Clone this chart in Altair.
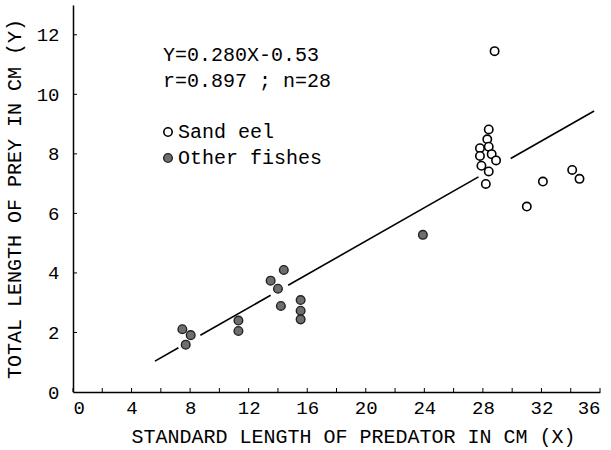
import altair as alt
import pandas as pd

# Sand eel (open circles)
eel_x = [28.4, 28.3, 27.8, 28.4, 27.8, 28.6, 28.9, 27.9, 28.4, 28.2, 28.8, 32.1, 31.0, 34.1, 34.6]
eel_y = [8.82, 8.49, 8.19, 8.24, 7.93, 7.99, 7.78, 7.60, 7.41, 6.99, 11.45, 7.07, 6.23, 7.46, 7.16]
# Other fishes (filled circles)
oth_x = [7.47, 8.04, 7.70, 11.3, 11.3, 13.5, 14.0, 14.4, 14.2, 15.55, 15.55, 15.55, 23.9]
oth_y = [2.11, 1.91, 1.59, 2.40, 2.05, 3.74, 3.47, 4.10, 2.89, 3.09, 2.73, 2.44, 5.28]

# regression line Y = 0.280X - 0.53, drawn as broken segments
slope, intercept = 0.280, -0.53
seg_start = [5.6, 8.7, 14.7, 29.9]
seg_end = [7.2, 13.5, 27.7, 35.6]

x_ticks = list(range(0, 37, 2))
y_ticks = list(range(0, 13, 2))

FONT = "Liberation Mono"

eel = pd.DataFrame({"x": eel_x, "y": eel_y})
oth = pd.DataFrame({"x": oth_x, "y": oth_y})
seg_rows = []
for i, (a, b) in enumerate(zip(seg_start, seg_end)):
    seg_rows.append({"seg": i, "x": a})
    seg_rows.append({"seg": i, "x": b})
segs = pd.DataFrame(seg_rows)

xs = alt.Scale(domain=[0, 36], nice=False, zero=False)
ys = alt.Scale(domain=[0, 13], nice=False, zero=False)

xaxis = alt.Axis(values=x_ticks, labelExpr="datum.value % 4 == 0 ? datum.label : ''",
                 grid=False, ticks=False, domainColor="black", domainWidth=1.5,
                 labelFont=FONT, labelFontSize=19, labelColor="black", labelPadding=6,
                 title="STANDARD LENGTH OF PREDATOR IN CM (X)", titleFont=FONT,
                 titleFontSize=20, titleFontWeight="normal", titleColor="black",
                 titlePadding=9, titleX=280, titleAlign="center")
yaxis = alt.Axis(values=y_ticks, grid=False, ticks=False, domainColor="black",
                 domainWidth=1.5, labelFont=FONT, labelFontSize=19, labelColor="black",
                 labelPadding=14,
                 title="TOTAL LENGTH OF PREY IN CM (Y)", titleFont=FONT,
                 titleFontSize=20, titleFontWeight="normal", titleColor="black",
                 titlePadding=12)

base_pts = alt.Chart(eel).mark_point(shape="circle", filled=False, size=70,
                                     color="black", strokeWidth=1.6, fill="white",
                                     opacity=1).encode(
    x=alt.X("x:Q", scale=xs, axis=xaxis),
    y=alt.Y("y:Q", scale=ys, axis=yaxis),
)
oth_pts = alt.Chart(oth).mark_point(shape="circle", filled=True, size=75,
                                    color="#6e6e6e", stroke="#222222", strokeWidth=1.4,
                                    opacity=1).encode(
    x=alt.X("x:Q", scale=xs),
    y=alt.Y("y:Q", scale=ys),
)
line = alt.Chart(segs).transform_calculate(
    y=f"{slope} * datum.x + ({intercept})"
).mark_line(color="black", strokeWidth=1.6).encode(
    x=alt.X("x:Q", scale=xs),
    y=alt.Y("y:Q", scale=ys),
    detail="seg:N",
)

xt = alt.Chart(pd.DataFrame({"t": x_ticks})).mark_rule(color="black", strokeWidth=1).encode(
    x=alt.X("t:Q", scale=xs), y=alt.value(387), y2=alt.value(383))
yt = alt.Chart(pd.DataFrame({"t": y_ticks[1:]})).mark_rule(color="black", strokeWidth=1).encode(
    y=alt.Y("t:Q", scale=ys), x=alt.value(0), x2=alt.value(4))

ann_text = ["Y=0.280X-0.53", "r=0.897 ; n=28", "Sand eel", "Other fishes"]
ann_x = [90, 90, 105, 105]
ann_y = [50, 76, 127, 153]
ann = alt.Chart(pd.DataFrame({"t": ann_text, "px": ann_x, "py": ann_y})).mark_text(
    font=FONT, fontSize=20, color="black", align="left", baseline="middle").encode(
    x=alt.X("px:Q", scale=None), y=alt.Y("py:Q", scale=None), text="t:N")

leg_open = alt.Chart(pd.DataFrame({"k": ["Sand eel"]})).mark_point(
    shape="circle", filled=False, size=70, color="black", strokeWidth=1.6, fill="white",
    opacity=1).encode(x=alt.value(95), y=alt.value(127))
leg_fill = alt.Chart(pd.DataFrame({"k": ["Other fishes"]})).mark_point(
    shape="circle", filled=True, size=75, color="#6e6e6e", stroke="#222222",
    strokeWidth=1.4, opacity=1).encode(x=alt.value(95), y=alt.value(153))

chart = alt.layer(base_pts, line, oth_pts, xt, yt, ann, leg_open, leg_fill).properties(
    width=527, height=387,
    autosize=alt.AutoSizeParams(type="none"),
    padding={"left": 73, "top": 5, "right": 11, "bottom": 58},
    background="white",
).configure_view(stroke=None)

chart.save("out.html", embed_options={"renderer": "svg", "actions": False})
